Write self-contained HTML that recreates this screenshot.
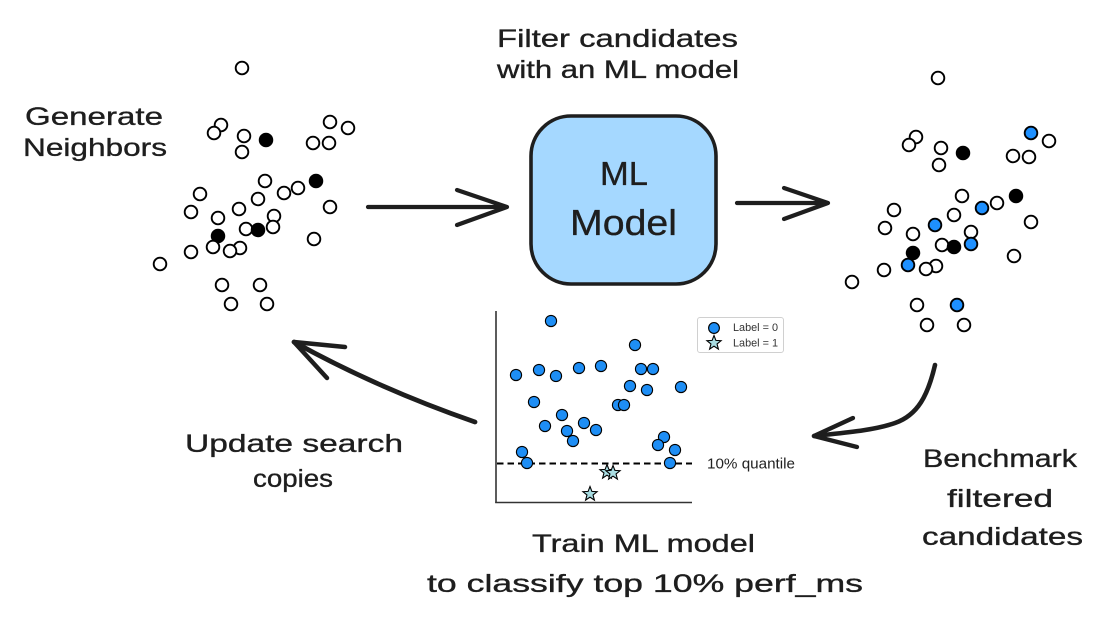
<!DOCTYPE html>
<html>
<head>
<meta charset="utf-8">
<style>
  html, body { margin:0; padding:0; background:#ffffff; }
  body { width:1104px; height:623px; overflow:hidden; }
  svg { display:block; }
  .lbl { font-family:"Liberation Sans", sans-serif; font-size:25px; fill:#1e1e1e; stroke:#1e1e1e; stroke-width:0.35; }
  .o { fill:#ffffff; stroke:#000; stroke-width:1.9; }
  .f { fill:#000; stroke:#000; stroke-width:1.9; }
  .b { fill:#1e90ff; stroke:#000; stroke-width:1.9; }
  .d { fill:#1e8ef5; stroke:#000; stroke-width:1.1; }
  .s { fill:#a9dde2; stroke:#000; stroke-width:1.1; }
  .arr { fill:none; stroke:#1e1e1e; stroke-width:4.2; stroke-linecap:round; stroke-linejoin:round; }
</style>
</head>
<body>
<svg width="1104" height="623" viewBox="0 0 1104 623" xmlns="http://www.w3.org/2000/svg">
  <defs>
    <polygon id="star" points="0,-7.5 1.9,-2.6 7.1,-2.3 3.05,1 4.4,6.1 0,3.2 -4.4,6.1 -3.05,1 -7.1,-2.3 -1.9,-2.6"/>
  </defs>

  <!-- Titles -->
  <text class="lbl" x="25" y="125" textLength="138" lengthAdjust="spacingAndGlyphs">Generate</text>
  <text class="lbl" x="23" y="156" textLength="144" lengthAdjust="spacingAndGlyphs">Neighbors</text>

  <text class="lbl" x="497" y="47" textLength="241" lengthAdjust="spacingAndGlyphs">Filter candidates</text>
  <text class="lbl" x="497" y="78" textLength="242" lengthAdjust="spacingAndGlyphs">with an ML model</text>

  <text class="lbl" x="185" y="452" textLength="218" lengthAdjust="spacingAndGlyphs">Update search</text>
  <text class="lbl" x="253" y="487" textLength="80" lengthAdjust="spacingAndGlyphs">copies</text>

  <text class="lbl" x="923" y="467" textLength="154" lengthAdjust="spacingAndGlyphs">Benchmark</text>
  <text class="lbl" x="947" y="507" textLength="106" lengthAdjust="spacingAndGlyphs">filtered</text>
  <text class="lbl" x="922" y="545" textLength="161" lengthAdjust="spacingAndGlyphs">candidates</text>

  <text class="lbl" x="532" y="552" textLength="223" lengthAdjust="spacingAndGlyphs">Train ML model</text>
  <text class="lbl" x="427" y="592" textLength="436" lengthAdjust="spacingAndGlyphs">to classify top 10% perf_ms</text>

  <!-- ML Model box -->
  <rect x="531" y="116" width="185" height="168" rx="40" ry="40" fill="#a5d8ff" stroke="#1e1e1e" stroke-width="3.6"/>
  <text class="lbl" x="600" y="185" style="font-size:33px" textLength="48" lengthAdjust="spacingAndGlyphs">ML</text>
  <text class="lbl" x="570" y="235" style="font-size:36px" textLength="107" lengthAdjust="spacingAndGlyphs">Model</text>

  <!-- Straight arrows -->
  <path class="arr" d="M368,207 L507,207 M457,190 L507,207 L457,225"/>
  <path class="arr" d="M737,203 L828,203 M784,188 L828,203 L784,219"/>

  <!-- Update arrow -->
  <path class="arr" style="stroke-width:4.8" d="M475,422 Q377,388 294,342"/>
  <path class="arr" style="stroke-width:4.5" d="M345,347 L294,342 L327,378"/>

  <!-- Benchmark arrow -->
  <path class="arr" style="stroke-width:4.6" d="M935,365 C928,395 918,415 895,423 S840,433 814,436"/>
  <path class="arr" style="stroke-width:4.3" d="M853,418 L814,436 L857,447"/>

  <!-- Left scatter -->
  <g>
    <circle class="o" cx="242" cy="68" r="6.3"/>
    <circle class="o" cx="221" cy="125" r="6.3"/>
    <circle class="o" cx="214" cy="133" r="6.3"/>
    <circle class="o" cx="244" cy="136" r="6.3"/>
    <circle class="o" cx="242" cy="152" r="6.3"/>
    <circle class="o" cx="330" cy="122" r="6.3"/>
    <circle class="o" cx="348" cy="128" r="6.3"/>
    <circle class="o" cx="313" cy="143" r="6.3"/>
    <circle class="o" cx="329" cy="143" r="6.3"/>
    <circle class="o" cx="265" cy="181" r="6.3"/>
    <circle class="o" cx="284" cy="193" r="6.3"/>
    <circle class="o" cx="298" cy="188" r="6.3"/>
    <circle class="o" cx="200" cy="194" r="6.3"/>
    <circle class="o" cx="191" cy="212" r="6.3"/>
    <circle class="o" cx="258" cy="199" r="6.3"/>
    <circle class="o" cx="239" cy="209" r="6.3"/>
    <circle class="o" cx="330" cy="207" r="6.3"/>
    <circle class="o" cx="218" cy="218" r="6.3"/>
    <circle class="o" cx="274" cy="216" r="6.3"/>
    <circle class="o" cx="246" cy="229" r="6.3"/>
    <circle class="o" cx="273" cy="227" r="6.3"/>
    <circle class="f" cx="258" cy="230" r="6.3"/>
    <circle class="f" cx="218" cy="236" r="6.3"/>
    <circle class="o" cx="213" cy="247" r="6.3"/>
    <circle class="o" cx="240" cy="248" r="6.3"/>
    <circle class="o" cx="230" cy="251" r="6.3"/>
    <circle class="o" cx="191" cy="252" r="6.3"/>
    <circle class="o" cx="314" cy="239" r="6.3"/>
    <circle class="o" cx="160" cy="264" r="6.3"/>
    <circle class="o" cx="222" cy="285" r="6.3"/>
    <circle class="o" cx="260" cy="285" r="6.3"/>
    <circle class="o" cx="231" cy="304" r="6.3"/>
    <circle class="o" cx="267" cy="304" r="6.3"/>
    <circle class="f" cx="266" cy="140" r="6.3"/>
    <circle class="f" cx="316" cy="181" r="6.3"/>
  </g>

  <!-- Right scatter -->
  <g>
    <circle class="o" cx="938" cy="78" r="6.3"/>
    <circle class="o" cx="916" cy="137" r="6.3"/>
    <circle class="o" cx="909" cy="145" r="6.3"/>
    <circle class="o" cx="941" cy="148" r="6.3"/>
    <circle class="o" cx="939" cy="165" r="6.3"/>
    <circle class="o" cx="1049" cy="141" r="6.3"/>
    <circle class="o" cx="1013" cy="156" r="6.3"/>
    <circle class="o" cx="1029" cy="157" r="6.3"/>
    <circle class="o" cx="962" cy="196" r="6.3"/>
    <circle class="o" cx="997" cy="203" r="6.3"/>
    <circle class="o" cx="894" cy="210" r="6.3"/>
    <circle class="o" cx="885" cy="228" r="6.3"/>
    <circle class="o" cx="954" cy="215" r="6.3"/>
    <circle class="o" cx="1031" cy="222" r="6.3"/>
    <circle class="o" cx="913" cy="234" r="6.3"/>
    <circle class="o" cx="971" cy="232" r="6.3"/>
    <circle class="o" cx="942" cy="245" r="6.3"/>
    <circle class="o" cx="936" cy="266" r="6.3"/>
    <circle class="o" cx="926" cy="269" r="6.3"/>
    <circle class="o" cx="884" cy="270" r="6.3"/>
    <circle class="o" cx="1014" cy="256" r="6.3"/>
    <circle class="o" cx="852" cy="282" r="6.3"/>
    <circle class="o" cx="917" cy="305" r="6.3"/>
    <circle class="o" cx="927" cy="325" r="6.3"/>
    <circle class="o" cx="964" cy="325" r="6.3"/>
    <circle class="b" cx="1031" cy="133" r="6.3"/>
    <circle class="b" cx="982" cy="208" r="6.3"/>
    <circle class="b" cx="935" cy="225" r="6.3"/>
    <circle class="b" cx="971" cy="244" r="6.3"/>
    <circle class="b" cx="908" cy="265" r="6.3"/>
    <circle class="b" cx="957" cy="305" r="6.3"/>
    <circle class="f" cx="963" cy="153" r="6.3"/>
    <circle class="f" cx="1016" cy="196" r="6.3"/>
    <circle class="f" cx="954" cy="247" r="6.3"/>
    <circle class="f" cx="913" cy="253" r="6.3"/>
  </g>

  <!-- Middle plot -->
  <g>
    <line x1="496" y1="311" x2="496" y2="503" stroke="#333" stroke-width="1.6"/>
    <line x1="495.2" y1="502.5" x2="692" y2="502.5" stroke="#333" stroke-width="1.6"/>
    <line x1="497" y1="463.5" x2="692" y2="463.5" stroke="#000" stroke-width="2" stroke-dasharray="6.5,4"/>

    <circle class="d" cx="551" cy="321" r="5.6"/>
    <circle class="d" cx="516" cy="375" r="5.6"/>
    <circle class="d" cx="539" cy="370" r="5.6"/>
    <circle class="d" cx="556" cy="376" r="5.6"/>
    <circle class="d" cx="579" cy="368" r="5.6"/>
    <circle class="d" cx="601" cy="366" r="5.6"/>
    <circle class="d" cx="635" cy="345" r="5.6"/>
    <circle class="d" cx="641" cy="369" r="5.6"/>
    <circle class="d" cx="653" cy="369" r="5.6"/>
    <circle class="d" cx="630" cy="386" r="5.6"/>
    <circle class="d" cx="647" cy="390" r="5.6"/>
    <circle class="d" cx="681" cy="387" r="5.6"/>
    <circle class="d" cx="534" cy="402" r="5.6"/>
    <circle class="d" cx="618" cy="405" r="5.6"/>
    <circle class="d" cx="624" cy="405" r="5.6"/>
    <circle class="d" cx="562" cy="415" r="5.6"/>
    <circle class="d" cx="545" cy="426" r="5.6"/>
    <circle class="d" cx="584" cy="423" r="5.6"/>
    <circle class="d" cx="567" cy="431" r="5.6"/>
    <circle class="d" cx="596" cy="430" r="5.6"/>
    <circle class="d" cx="573" cy="441" r="5.6"/>
    <circle class="d" cx="522" cy="452" r="5.6"/>
    <circle class="d" cx="527" cy="463" r="5.6"/>
    <circle class="d" cx="664" cy="437" r="5.6"/>
    <circle class="d" cx="658" cy="445" r="5.6"/>
    <circle class="d" cx="675" cy="450" r="5.6"/>
    <circle class="d" cx="670" cy="463" r="5.6"/>

    <use href="#star" class="s" x="607" y="472"/>
    <use href="#star" class="s" x="613" y="473"/>
    <use href="#star" class="s" x="590" y="494"/>

    <text x="707" y="468.5" font-family="Liberation Sans, sans-serif" font-size="14.5" fill="#222" textLength="88" lengthAdjust="spacingAndGlyphs">10% quantile</text>

    <!-- legend -->
    <rect x="697.5" y="317.5" width="86" height="35" rx="2.5" fill="#fff" stroke="#d0d0d0" stroke-width="1"/>
    <circle class="d" cx="714" cy="328" r="5.4"/>
    <use href="#star" class="s" x="714" y="343"/>
    <text x="733" y="331" font-family="Liberation Sans, sans-serif" font-size="10.8" fill="#333" textLength="45" lengthAdjust="spacingAndGlyphs">Label = 0</text>
    <text x="733" y="346.5" font-family="Liberation Sans, sans-serif" font-size="10.8" fill="#333" textLength="45" lengthAdjust="spacingAndGlyphs">Label = 1</text>
  </g>
</svg>
</body>
</html>
